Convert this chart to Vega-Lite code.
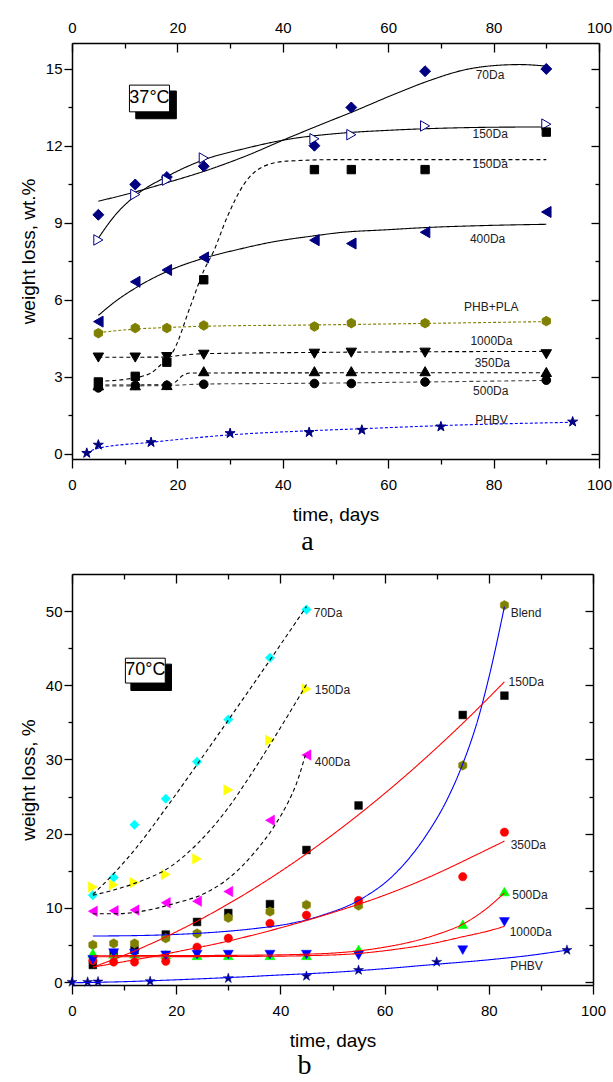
{
  "$schema": "https://vega.github.io/schema/vega-lite/v6.json",
  "padding": {"left": 19, "top": 16, "right": 5, "bottom": 0},
  "spacing": 17,
  "config": {
    "font": "Liberation Sans",
    "view": {"stroke": null},
    "style": {"guide-title": {"fontWeight": "normal"}},
    "axis": {"grid": false, "domainColor": "#000", "domainWidth": 1.5, "tickColor": "#000", "tickWidth": 1.3, "labelColor": "#000", "titleColor": "#000", "labelFontSize": 15, "titleFontSize": 19, "titleFontWeight": "normal", "labelFont": "Liberation Sans", "titleFont": "Liberation Sans", "labelFlush": false, "labelOverlap": false},
    "title": {"font": "Liberation Serif", "fontSize": 28, "fontWeight": "normal", "color": "#000"}
  },
  "resolve": {"scale": {"x": "independent", "y": "independent", "fill": "independent", "stroke": "independent", "shape": "independent", "size": "independent", "strokeDash": "independent"}},
  "datasets": {
    "box37": [
      {"k": "shadow", "x": 12.1, "x2": 19.8, "y": 13.05, "y2": 14.13},
      {"k": "box", "x": 10.9, "x2": 18.5, "y": 13.32, "y2": 14.36}
    ],
    "tag37": [{"t": "37°C", "x": 14.7, "y": 13.84}],
    "fit37": [
      {"s": "70Da", "x": 5, "y": 9.84}, {"s": "70Da", "x": 12, "y": 10.2}, {"s": "70Da", "x": 18, "y": 10.56}, {"s": "70Da", "x": 25, "y": 11.0}, {"s": "70Da", "x": 33, "y": 11.6}, {"s": "70Da", "x": 41, "y": 12.3}, {"s": "70Da", "x": 49, "y": 12.97}, {"s": "70Da", "x": 53, "y": 13.3}, {"s": "70Da", "x": 61.7, "y": 14.05}, {"s": "70Da", "x": 68, "y": 14.55}, {"s": "70Da", "x": 74.4, "y": 14.95}, {"s": "70Da", "x": 80.7, "y": 15.13}, {"s": "70Da", "x": 85, "y": 15.16}, {"s": "70Da", "x": 90, "y": 15.1},
      {"s": "150Da", "x": 5, "y": 8.4}, {"s": "150Da", "x": 8, "y": 9.25}, {"s": "150Da", "x": 12, "y": 10.05}, {"s": "150Da", "x": 18, "y": 10.8}, {"s": "150Da", "x": 25, "y": 11.45}, {"s": "150Da", "x": 33, "y": 11.9}, {"s": "150Da", "x": 41, "y": 12.25}, {"s": "150Da", "x": 50, "y": 12.47}, {"s": "150Da", "x": 60, "y": 12.6}, {"s": "150Da", "x": 70, "y": 12.68}, {"s": "150Da", "x": 80, "y": 12.72}, {"s": "150Da", "x": 90, "y": 12.73},
      {"s": "150DaS", "x": 5, "y": 2.83}, {"s": "150DaS", "x": 10, "y": 2.9}, {"s": "150DaS", "x": 14.8, "y": 3.13}, {"s": "150DaS", "x": 17, "y": 3.5}, {"s": "150DaS", "x": 19.3, "y": 4.03}, {"s": "150DaS", "x": 22.4, "y": 5.71}, {"s": "150DaS", "x": 25, "y": 7.13}, {"s": "150DaS", "x": 26.9, "y": 7.9}, {"s": "150DaS", "x": 29.4, "y": 9.2}, {"s": "150DaS", "x": 32.6, "y": 10.49}, {"s": "150DaS", "x": 36.4, "y": 11.2}, {"s": "150DaS", "x": 40.8, "y": 11.4}, {"s": "150DaS", "x": 51, "y": 11.46}, {"s": "150DaS", "x": 70, "y": 11.46}, {"s": "150DaS", "x": 90, "y": 11.46},
      {"s": "400Da", "x": 5, "y": 5.39}, {"s": "400Da", "x": 8, "y": 5.9}, {"s": "400Da", "x": 12.3, "y": 6.49}, {"s": "400Da", "x": 18, "y": 7.1}, {"s": "400Da", "x": 25, "y": 7.62}, {"s": "400Da", "x": 31.3, "y": 7.95}, {"s": "400Da", "x": 38, "y": 8.25}, {"s": "400Da", "x": 45.9, "y": 8.49}, {"s": "400Da", "x": 51, "y": 8.62}, {"s": "400Da", "x": 60, "y": 8.73}, {"s": "400Da", "x": 66.8, "y": 8.81}, {"s": "400Da", "x": 78, "y": 8.89}, {"s": "400Da", "x": 90, "y": 8.94},
      {"s": "PHB+PLA", "x": 5, "y": 4.72}, {"s": "PHB+PLA", "x": 12, "y": 4.86}, {"s": "PHB+PLA", "x": 18, "y": 4.92}, {"s": "PHB+PLA", "x": 25, "y": 4.97}, {"s": "PHB+PLA", "x": 46, "y": 5.02}, {"s": "PHB+PLA", "x": 67, "y": 5.08}, {"s": "PHB+PLA", "x": 90, "y": 5.15},
      {"s": "1000Da", "x": 5, "y": 3.76}, {"s": "1000Da", "x": 18, "y": 3.77}, {"s": "1000Da", "x": 20, "y": 3.82}, {"s": "1000Da", "x": 25, "y": 3.9}, {"s": "1000Da", "x": 46, "y": 3.95}, {"s": "1000Da", "x": 90, "y": 3.99},
      {"s": "350Da", "x": 5, "y": 2.68}, {"s": "350Da", "x": 18, "y": 2.69}, {"s": "350Da", "x": 19.5, "y": 2.78}, {"s": "350Da", "x": 21, "y": 3.05}, {"s": "350Da", "x": 22.5, "y": 3.15}, {"s": "350Da", "x": 90, "y": 3.16},
      {"s": "500Da", "x": 5, "y": 2.64}, {"s": "500Da", "x": 18, "y": 2.66}, {"s": "500Da", "x": 25, "y": 2.72}, {"s": "500Da", "x": 46, "y": 2.75}, {"s": "500Da", "x": 67, "y": 2.8}, {"s": "500Da", "x": 90, "y": 2.86},
      {"s": "PHBV", "x": 2.8, "y": 0.03}, {"s": "PHBV", "x": 5, "y": 0.22}, {"s": "PHBV", "x": 15, "y": 0.45}, {"s": "PHBV", "x": 30, "y": 0.74}, {"s": "PHBV", "x": 45, "y": 0.9}, {"s": "PHBV", "x": 55, "y": 0.98}, {"s": "PHBV", "x": 70, "y": 1.1}, {"s": "PHBV", "x": 95, "y": 1.23}
    ],
    "pts37": [
      {"s": "70Da", "x": 5, "y": 9.31}, {"s": "70Da", "x": 12, "y": 10.49}, {"s": "70Da", "x": 18, "y": 10.78}, {"s": "70Da", "x": 25, "y": 11.2}, {"s": "70Da", "x": 46, "y": 12.0}, {"s": "70Da", "x": 53, "y": 13.49}, {"s": "70Da", "x": 67, "y": 14.9}, {"s": "70Da", "x": 90, "y": 14.99},
      {"s": "150Da", "x": 5, "y": 8.33}, {"s": "150Da", "x": 12, "y": 10.1}, {"s": "150Da", "x": 18, "y": 10.66}, {"s": "150Da", "x": 25, "y": 11.52}, {"s": "150Da", "x": 46, "y": 12.27}, {"s": "150Da", "x": 53, "y": 12.43}, {"s": "150Da", "x": 67, "y": 12.77}, {"s": "150Da", "x": 90, "y": 12.84},
      {"s": "150DaS", "x": 5, "y": 2.8}, {"s": "150DaS", "x": 12, "y": 3.02}, {"s": "150DaS", "x": 18, "y": 3.57}, {"s": "150DaS", "x": 25, "y": 6.78}, {"s": "150DaS", "x": 46, "y": 11.07}, {"s": "150DaS", "x": 53, "y": 11.07}, {"s": "150DaS", "x": 67, "y": 11.07}, {"s": "150DaS", "x": 90, "y": 12.53},
      {"s": "400Da", "x": 5, "y": 5.15}, {"s": "400Da", "x": 12, "y": 6.7}, {"s": "400Da", "x": 18, "y": 7.16}, {"s": "400Da", "x": 25, "y": 7.65}, {"s": "400Da", "x": 46, "y": 8.32}, {"s": "400Da", "x": 53, "y": 8.19}, {"s": "400Da", "x": 67, "y": 8.63}, {"s": "400Da", "x": 90, "y": 9.42},
      {"s": "PHB+PLA", "x": 5, "y": 4.7}, {"s": "PHB+PLA", "x": 12, "y": 4.9}, {"s": "PHB+PLA", "x": 18, "y": 4.9}, {"s": "PHB+PLA", "x": 25, "y": 5.0}, {"s": "PHB+PLA", "x": 46, "y": 4.96}, {"s": "PHB+PLA", "x": 53, "y": 5.09}, {"s": "PHB+PLA", "x": 67, "y": 5.09}, {"s": "PHB+PLA", "x": 90, "y": 5.17},
      {"s": "1000Da", "x": 5, "y": 3.75}, {"s": "1000Da", "x": 12, "y": 3.75}, {"s": "1000Da", "x": 18, "y": 3.77}, {"s": "1000Da", "x": 25, "y": 3.86}, {"s": "1000Da", "x": 46, "y": 3.9}, {"s": "1000Da", "x": 53, "y": 3.94}, {"s": "1000Da", "x": 67, "y": 3.94}, {"s": "1000Da", "x": 90, "y": 3.88},
      {"s": "350Da", "x": 5, "y": 2.67}, {"s": "350Da", "x": 12, "y": 2.67}, {"s": "350Da", "x": 18, "y": 2.68}, {"s": "350Da", "x": 25, "y": 3.22}, {"s": "350Da", "x": 46, "y": 3.22}, {"s": "350Da", "x": 53, "y": 3.22}, {"s": "350Da", "x": 67, "y": 3.22}, {"s": "350Da", "x": 90, "y": 3.19},
      {"s": "500Da", "x": 5, "y": 2.57}, {"s": "500Da", "x": 12, "y": 2.67}, {"s": "500Da", "x": 18, "y": 2.67}, {"s": "500Da", "x": 25, "y": 2.71}, {"s": "500Da", "x": 46, "y": 2.74}, {"s": "500Da", "x": 53, "y": 2.74}, {"s": "500Da", "x": 67, "y": 2.8}, {"s": "500Da", "x": 90, "y": 2.87},
      {"s": "PHBV", "x": 2.8, "y": 0.03}, {"s": "PHBV", "x": 5, "y": 0.35}, {"s": "PHBV", "x": 15, "y": 0.45}, {"s": "PHBV", "x": 30, "y": 0.8}, {"s": "PHBV", "x": 45, "y": 0.84}, {"s": "PHBV", "x": 55, "y": 0.93}, {"s": "PHBV", "x": 70, "y": 1.06}, {"s": "PHBV", "x": 95, "y": 1.25}
    ],
    "lab37": [
      {"t": "70Da", "x": 76.6, "y": 14.74}, {"t": "150Da", "x": 76.0, "y": 12.47}, {"t": "150Da", "x": 76.0, "y": 11.3}, {"t": "400Da", "x": 75.5, "y": 8.36}, {"t": "PHB+PLA", "x": 74.4, "y": 5.71}, {"t": "1000Da", "x": 75.6, "y": 4.38}, {"t": "350Da", "x": 76.4, "y": 3.53}, {"t": "500Da", "x": 76.1, "y": 2.43}, {"t": "PHBV", "x": 76.5, "y": 1.33}
    ],
    "box70": [
      {"k": "shadow", "x": 11.3, "x2": 19.1, "y": 39.3, "y2": 42.85},
      {"k": "box", "x": 10.25, "x2": 17.9, "y": 40.3, "y2": 43.65}
    ],
    "tag70": [{"t": "70°C", "x": 14.1, "y": 42.0}],
    "fit70": [
      {"s": "70Da", "x": 4, "y": 11.8}, {"s": "70Da", "x": 8, "y": 14.6}, {"s": "70Da", "x": 12, "y": 17.8}, {"s": "70Da", "x": 18, "y": 23.4}, {"s": "70Da", "x": 24, "y": 29.3}, {"s": "70Da", "x": 30, "y": 35.3}, {"s": "70Da", "x": 38, "y": 43.4}, {"s": "70Da", "x": 45, "y": 50.6},
      {"s": "150DaY", "x": 4, "y": 11.7}, {"s": "150DaY", "x": 8, "y": 12.4}, {"s": "150DaY", "x": 12, "y": 13.3}, {"s": "150DaY", "x": 19, "y": 15.6}, {"s": "150DaY", "x": 24, "y": 18.6}, {"s": "150DaY", "x": 30, "y": 23.5}, {"s": "150DaY", "x": 34, "y": 27.6}, {"s": "150DaY", "x": 38, "y": 32.0}, {"s": "150DaY", "x": 41.5, "y": 36.0}, {"s": "150DaY", "x": 45, "y": 40.1},
      {"s": "400Da", "x": 4, "y": 9.2}, {"s": "400Da", "x": 8, "y": 9.2}, {"s": "400Da", "x": 12.2, "y": 9.4}, {"s": "400Da", "x": 16, "y": 9.9}, {"s": "400Da", "x": 19.2, "y": 10.5}, {"s": "400Da", "x": 25.6, "y": 12.0}, {"s": "400Da", "x": 30.1, "y": 14.0}, {"s": "400Da", "x": 35.2, "y": 17.6}, {"s": "400Da", "x": 39, "y": 21.2}, {"s": "400Da", "x": 41.6, "y": 24.4}, {"s": "400Da", "x": 43, "y": 26.6}, {"s": "400Da", "x": 44.8, "y": 30.6},
      {"s": "Blend", "x": 4, "y": 6.2}, {"s": "Blend", "x": 15, "y": 6.3}, {"s": "Blend", "x": 25, "y": 6.6}, {"s": "Blend", "x": 35, "y": 7.2}, {"s": "Blend", "x": 42, "y": 7.9}, {"s": "Blend", "x": 48, "y": 9.0}, {"s": "Blend", "x": 55, "y": 11.0}, {"s": "Blend", "x": 62, "y": 14.6}, {"s": "Blend", "x": 68, "y": 19.8}, {"s": "Blend", "x": 72, "y": 24.6}, {"s": "Blend", "x": 75, "y": 29.4}, {"s": "Blend", "x": 78, "y": 35.6}, {"s": "Blend", "x": 80, "y": 41.0}, {"s": "Blend", "x": 83, "y": 50.6},
      {"s": "150Da", "x": 4, "y": 2.0}, {"s": "150Da", "x": 10, "y": 3.61}, {"s": "150Da", "x": 16, "y": 5.43}, {"s": "150Da", "x": 22, "y": 7.47}, {"s": "150Da", "x": 28, "y": 9.73}, {"s": "150Da", "x": 34, "y": 12.2}, {"s": "150Da", "x": 40, "y": 14.89}, {"s": "150Da", "x": 46, "y": 17.79}, {"s": "150Da", "x": 52, "y": 20.91}, {"s": "150Da", "x": 58, "y": 24.25}, {"s": "150Da", "x": 64, "y": 27.8}, {"s": "150Da", "x": 70, "y": 31.57}, {"s": "150Da", "x": 76, "y": 35.55}, {"s": "150Da", "x": 83, "y": 40.47},
      {"s": "350Da", "x": 4, "y": 2.0}, {"s": "350Da", "x": 10, "y": 2.75}, {"s": "350Da", "x": 16, "y": 3.5}, {"s": "350Da", "x": 22, "y": 4.35}, {"s": "350Da", "x": 28, "y": 5.2}, {"s": "350Da", "x": 34, "y": 6.2}, {"s": "350Da", "x": 40, "y": 7.3}, {"s": "350Da", "x": 46, "y": 8.5}, {"s": "350Da", "x": 52, "y": 9.8}, {"s": "350Da", "x": 58, "y": 11.2}, {"s": "350Da", "x": 64, "y": 12.8}, {"s": "350Da", "x": 70, "y": 14.6}, {"s": "350Da", "x": 76, "y": 16.6}, {"s": "350Da", "x": 83, "y": 19.0},
      {"s": "500Da", "x": 4, "y": 3.55}, {"s": "500Da", "x": 15, "y": 3.56}, {"s": "500Da", "x": 25, "y": 3.58}, {"s": "500Da", "x": 35, "y": 3.62}, {"s": "500Da", "x": 45, "y": 3.75}, {"s": "500Da", "x": 50, "y": 3.9}, {"s": "500Da", "x": 55, "y": 4.2}, {"s": "500Da", "x": 60, "y": 4.7}, {"s": "500Da", "x": 65, "y": 5.4}, {"s": "500Da", "x": 70, "y": 6.4}, {"s": "500Da", "x": 75, "y": 7.8}, {"s": "500Da", "x": 79, "y": 9.6}, {"s": "500Da", "x": 83, "y": 12.0},
      {"s": "1000Da", "x": 4, "y": 3.4}, {"s": "1000Da", "x": 20, "y": 3.42}, {"s": "1000Da", "x": 35, "y": 3.46}, {"s": "1000Da", "x": 45, "y": 3.55}, {"s": "1000Da", "x": 55, "y": 3.85}, {"s": "1000Da", "x": 62, "y": 4.4}, {"s": "1000Da", "x": 68.5, "y": 5.1}, {"s": "1000Da", "x": 75, "y": 6.1}, {"s": "1000Da", "x": 80, "y": 6.9}, {"s": "1000Da", "x": 83, "y": 7.5},
      {"s": "PHBV", "x": 0, "y": -0.1}, {"s": "PHBV", "x": 10, "y": 0.05}, {"s": "PHBV", "x": 20, "y": 0.3}, {"s": "PHBV", "x": 30, "y": 0.6}, {"s": "PHBV", "x": 40, "y": 0.95}, {"s": "PHBV", "x": 50, "y": 1.3}, {"s": "PHBV", "x": 60, "y": 1.8}, {"s": "PHBV", "x": 70, "y": 2.4}, {"s": "PHBV", "x": 80, "y": 3.0}, {"s": "PHBV", "x": 88, "y": 3.6}, {"s": "PHBV", "x": 95, "y": 4.3}
    ],
    "pts70": [
      {"s": "150Da", "x": 4, "y": 2.3}, {"s": "150Da", "x": 8, "y": 3.8}, {"s": "150Da", "x": 12, "y": 4.3}, {"s": "150Da", "x": 18, "y": 6.4}, {"s": "150Da", "x": 24, "y": 8.1}, {"s": "150Da", "x": 30, "y": 9.3}, {"s": "150Da", "x": 38, "y": 10.5}, {"s": "150Da", "x": 45, "y": 17.8}, {"s": "150Da", "x": 55, "y": 23.8}, {"s": "150Da", "x": 75, "y": 36.0}, {"s": "150Da", "x": 83, "y": 38.6},
      {"s": "Blend", "x": 4, "y": 5.0}, {"s": "Blend", "x": 8, "y": 5.2}, {"s": "Blend", "x": 12, "y": 5.2}, {"s": "Blend", "x": 18, "y": 5.9}, {"s": "Blend", "x": 24, "y": 6.55}, {"s": "Blend", "x": 30, "y": 8.65}, {"s": "Blend", "x": 38, "y": 9.5}, {"s": "Blend", "x": 45, "y": 10.4}, {"s": "Blend", "x": 55, "y": 10.3}, {"s": "Blend", "x": 75, "y": 29.2}, {"s": "Blend", "x": 83, "y": 50.8},
      {"s": "500Da", "x": 4, "y": 3.9}, {"s": "500Da", "x": 8, "y": 3.8}, {"s": "500Da", "x": 12, "y": 3.8}, {"s": "500Da", "x": 18, "y": 3.7}, {"s": "500Da", "x": 24, "y": 3.6}, {"s": "500Da", "x": 30, "y": 3.6}, {"s": "500Da", "x": 38, "y": 3.6}, {"s": "500Da", "x": 45, "y": 3.6}, {"s": "500Da", "x": 55, "y": 4.4}, {"s": "500Da", "x": 75, "y": 7.8}, {"s": "500Da", "x": 83, "y": 12.2},
      {"s": "350Da", "x": 4, "y": 2.9}, {"s": "350Da", "x": 8, "y": 2.7}, {"s": "350Da", "x": 12, "y": 2.7}, {"s": "350Da", "x": 18, "y": 2.8}, {"s": "350Da", "x": 24, "y": 4.7}, {"s": "350Da", "x": 30, "y": 5.9}, {"s": "350Da", "x": 38, "y": 7.9}, {"s": "350Da", "x": 45, "y": 9.0}, {"s": "350Da", "x": 55, "y": 11.0}, {"s": "350Da", "x": 75, "y": 14.2}, {"s": "350Da", "x": 83, "y": 20.2},
      {"s": "1000Da", "x": 4, "y": 3.0}, {"s": "1000Da", "x": 8, "y": 3.9}, {"s": "1000Da", "x": 12, "y": 3.85}, {"s": "1000Da", "x": 18, "y": 3.6}, {"s": "1000Da", "x": 24, "y": 3.7}, {"s": "1000Da", "x": 30, "y": 3.7}, {"s": "1000Da", "x": 38, "y": 3.7}, {"s": "1000Da", "x": 45, "y": 3.7}, {"s": "1000Da", "x": 55, "y": 3.6}, {"s": "1000Da", "x": 75, "y": 4.3}, {"s": "1000Da", "x": 83, "y": 8.1},
      {"s": "70Da", "x": 4, "y": 11.7}, {"s": "70Da", "x": 8, "y": 14.1}, {"s": "70Da", "x": 12, "y": 21.2}, {"s": "70Da", "x": 18, "y": 24.7}, {"s": "70Da", "x": 24, "y": 29.7}, {"s": "70Da", "x": 30, "y": 35.4}, {"s": "70Da", "x": 38, "y": 43.7}, {"s": "70Da", "x": 45, "y": 50.2},
      {"s": "150DaY", "x": 4, "y": 12.8}, {"s": "150DaY", "x": 8, "y": 13.1}, {"s": "150DaY", "x": 12, "y": 13.4}, {"s": "150DaY", "x": 18, "y": 14.5}, {"s": "150DaY", "x": 24, "y": 16.6}, {"s": "150DaY", "x": 30, "y": 25.9}, {"s": "150DaY", "x": 38, "y": 32.6}, {"s": "150DaY", "x": 45, "y": 39.5},
      {"s": "400Da", "x": 4, "y": 9.55}, {"s": "400Da", "x": 8, "y": 9.6}, {"s": "400Da", "x": 12, "y": 9.7}, {"s": "400Da", "x": 18, "y": 10.7}, {"s": "400Da", "x": 24, "y": 10.9}, {"s": "400Da", "x": 30, "y": 12.2}, {"s": "400Da", "x": 38, "y": 21.8}, {"s": "400Da", "x": 45, "y": 30.6},
      {"s": "PHBV", "x": 0, "y": 0.0}, {"s": "PHBV", "x": 3, "y": 0.0}, {"s": "PHBV", "x": 5, "y": 0.05}, {"s": "PHBV", "x": 15, "y": 0.1}, {"s": "PHBV", "x": 30, "y": 0.5}, {"s": "PHBV", "x": 45, "y": 0.8}, {"s": "PHBV", "x": 55, "y": 1.6}, {"s": "PHBV", "x": 70, "y": 2.7}, {"s": "PHBV", "x": 95, "y": 4.3}
    ],
    "lab70": [
      {"t": "70Da", "x": 46.4, "y": 49.8}, {"t": "150Da", "x": 46.6, "y": 39.3}, {"t": "400Da", "x": 46.6, "y": 29.7}, {"t": "Blend", "x": 84.2, "y": 49.8}, {"t": "150Da", "x": 83.8, "y": 40.5}, {"t": "350Da", "x": 84.2, "y": 18.5}, {"t": "500Da", "x": 84.5, "y": 11.7}, {"t": "1000Da", "x": 84.0, "y": 6.7}, {"t": "PHBV", "x": 84.1, "y": 2.2}
    ]
  },
  "vconcat": [
    {
      "width": 527,
      "height": 416,
      "title": {"text": "a", "orient": "bottom", "dx": -28, "offset": 3},
      "resolve": {"axis": {"x": "independent", "y": "independent"}, "scale": {"fill": "independent", "stroke": "independent"}},
      "layer": [
        {
          "data": {"name": "box37"},
          "mark": {"type": "rect", "strokeWidth": 1},
          "encoding": {
            "x": {"field": "x", "type": "quantitative", "scale": {"domain": [0, 100], "nice": false, "zero": false}, "axis": null},
            "x2": {"field": "x2"},
            "y": {"field": "y", "type": "quantitative", "scale": {"domain": [-0.2, 16], "nice": false, "zero": false}, "axis": null},
            "y2": {"field": "y2"},
            "fill": {"field": "k", "type": "nominal", "scale": {"domain": ["shadow", "box"], "range": ["#000000", "#ffffff"]}, "legend": null},
            "stroke": {"field": "k", "type": "nominal", "scale": {"domain": ["shadow", "box"], "range": ["#000000", "#000000"]}, "legend": null}
          }
        },
        {
          "data": {"name": "fit37"},
          "mark": {"type": "line", "interpolate": "monotone", "strokeWidth": 1.1},
          "encoding": {
            "x": {"field": "x", "type": "quantitative", "scale": {"domain": [0, 100], "nice": false, "zero": false},
              "axis": {"orient": "bottom", "values": [0, 10, 20, 30, 40, 50, 60, 70, 80, 90, 100], "labelExpr": "datum.value % 20 === 0 ? datum.label : ''", "tickSize": {"condition": {"test": "datum.value % 20 === 0", "value": 9}, "value": 5}, "labelPadding": 9.5, "title": "time, days", "titlePadding": 13.4, "titleFontWeight": "normal"}},
            "y": {"field": "y", "type": "quantitative", "scale": {"domain": [-0.2, 16], "nice": false, "zero": false},
              "axis": {"orient": "left", "values": [0, 1.5, 3, 4.5, 6, 7.5, 9, 10.5, 12, 13.5, 15], "labelExpr": "datum.value % 3 === 0 ? datum.label : ''", "tickSize": {"condition": {"test": "datum.value % 3 === 0", "value": 8}, "value": 4}, "labelPadding": 2, "title": "weight loss, wt.%", "titlePadding": 7, "titleFontWeight": "normal"}},
            "stroke": {"field": "s", "type": "nominal", "legend": null, "scale": {"domain": ["70Da", "150Da", "150DaS", "400Da", "PHB+PLA", "1000Da", "350Da", "500Da", "PHBV"], "range": ["#000000", "#000000", "#000000", "#000000", "#808000", "#000000", "#000000", "#444444", "#0000ff"]}},
            "strokeDash": {"field": "s", "type": "nominal", "legend": null, "scale": {"domain": ["70Da", "150Da", "150DaS", "400Da", "PHB+PLA", "1000Da", "350Da", "500Da", "PHBV"], "range": [[1, 0], [1, 0], [4, 3], [1, 0], [3, 2], [4, 3], [4, 3], [4, 3], [3, 2]]}}
          }
        },
        {
          "data": {"name": "pts37"},
          "mark": {"type": "point", "filled": true, "strokeWidth": 1, "opacity": 1},
          "encoding": {
            "x": {"field": "x", "type": "quantitative", "scale": {"domain": [0, 100], "nice": false, "zero": false},
              "axis": {"orient": "top", "values": [0, 10, 20, 30, 40, 50, 60, 70, 80, 90, 100], "labelExpr": "datum.value % 20 === 0 ? datum.label : ''", "tickSize": {"condition": {"test": "datum.value % 20 === 0", "value": -9}, "value": -5}, "labelPadding": 16.8, "title": null}},
            "y": {"field": "y", "type": "quantitative", "scale": {"domain": [-0.2, 16], "nice": false, "zero": false},
              "axis": {"orient": "right", "values": [0, 1.5, 3, 4.5, 6, 7.5, 9, 10.5, 12, 13.5, 15], "labels": false, "tickSize": {"condition": {"test": "datum.value % 3 === 0", "value": -8}, "value": -4}, "title": null}},
            "shape": {"field": "s", "type": "nominal", "legend": null, "scale": {"domain": ["70Da", "150Da", "150DaS", "400Da", "PHB+PLA", "1000Da", "350Da", "500Da", "PHBV"], "range": ["diamond", "triangle-right", "square", "triangle-left", "M0,-1L0.866,-0.5L0.866,0.5L0,1L-0.866,0.5L-0.866,-0.5Z", "triangle-down", "triangle-up", "circle", "M0,-1L0.2245,-0.309L0.9511,-0.309L0.3633,0.118L0.5878,0.809L0,0.382L-0.5878,0.809L-0.3633,0.118L-0.9511,-0.309L-0.2245,-0.309Z"]}},
            "fill": {"field": "s", "type": "nominal", "legend": null, "scale": {"domain": ["70Da", "150Da", "150DaS", "400Da", "PHB+PLA", "1000Da", "350Da", "500Da", "PHBV"], "range": ["#000080", "#ffffff", "#000000", "#000080", "#808000", "#000000", "#000000", "#000000", "#000080"]}},
            "stroke": {"field": "s", "type": "nominal", "legend": null, "scale": {"domain": ["70Da", "150Da", "150DaS", "400Da", "PHB+PLA", "1000Da", "350Da", "500Da", "PHBV"], "range": ["#000080", "#000080", "#000000", "#000080", "#808000", "#000000", "#000000", "#000000", "#000080"]}},
            "size": {"field": "s", "type": "nominal", "legend": null, "scale": {"type": "ordinal", "domain": ["70Da", "150Da", "150DaS", "400Da", "PHB+PLA", "1000Da", "350Da", "500Da", "PHBV"], "range": [120, 110, 70, 120, 90, 110, 110, 75, 110]}}
          }
        },
        {
          "data": {"name": "lab37"},
          "mark": {"type": "text", "align": "left", "baseline": "middle", "fontSize": 12, "color": "#222222"},
          "encoding": {
            "x": {"field": "x", "type": "quantitative", "scale": {"domain": [0, 100], "nice": false, "zero": false}, "axis": null},
            "y": {"field": "y", "type": "quantitative", "scale": {"domain": [-0.2, 16], "nice": false, "zero": false}, "axis": null},
            "text": {"field": "t"}
          }
        },
        {
          "data": {"name": "tag37"},
          "mark": {"type": "text", "align": "center", "baseline": "middle", "fontSize": 18, "color": "#000000"},
          "encoding": {
            "x": {"field": "x", "type": "quantitative", "scale": {"domain": [0, 100], "nice": false, "zero": false}, "axis": null},
            "y": {"field": "y", "type": "quantitative", "scale": {"domain": [-0.2, 16], "nice": false, "zero": false}, "axis": null},
            "text": {"field": "t"}
          }
        }
      ]
    },
    {
      "width": 521,
      "height": 411,
      "title": {"text": "b", "orient": "bottom", "dx": -28, "offset": 1},
      "resolve": {"axis": {"x": "independent", "y": "independent"}, "scale": {"fill": "independent", "stroke": "independent"}},
      "layer": [
        {
          "data": {"name": "box70"},
          "mark": {"type": "rect", "strokeWidth": 1},
          "encoding": {
            "x": {"field": "x", "type": "quantitative", "scale": {"domain": [0, 100], "nice": false, "zero": false}, "axis": null},
            "x2": {"field": "x2"},
            "y": {"field": "y", "type": "quantitative", "scale": {"domain": [-0.4, 55], "nice": false, "zero": false}, "axis": null},
            "y2": {"field": "y2"},
            "fill": {"field": "k", "type": "nominal", "scale": {"domain": ["shadow", "box"], "range": ["#000000", "#ffffff"]}, "legend": null},
            "stroke": {"field": "k", "type": "nominal", "scale": {"domain": ["shadow", "box"], "range": ["#000000", "#000000"]}, "legend": null}
          }
        },
        {
          "data": {"name": "pts70"},
          "mark": {"type": "point", "filled": true, "strokeWidth": 0.5, "opacity": 1},
          "encoding": {
            "x": {"field": "x", "type": "quantitative", "scale": {"domain": [0, 100], "nice": false, "zero": false},
              "axis": {"orient": "top", "values": [0, 10, 20, 30, 40, 50, 60, 70, 80, 90, 100], "labels": false, "tickSize": {"condition": {"test": "datum.value % 20 === 0", "value": -9}, "value": -5}, "title": null}},
            "y": {"field": "y", "type": "quantitative", "scale": {"domain": [-0.4, 55], "nice": false, "zero": false},
              "axis": {"orient": "right", "values": [0, 5, 10, 15, 20, 25, 30, 35, 40, 45, 50], "labels": false, "tickSize": {"condition": {"test": "datum.value % 10 === 0", "value": -8}, "value": -4}, "title": null}},
            "shape": {"field": "s", "type": "nominal", "legend": null, "scale": {"domain": ["70Da", "150DaY", "400Da", "Blend", "150Da", "350Da", "500Da", "1000Da", "PHBV"], "range": ["diamond", "triangle-right", "triangle-left", "M0,-1L0.866,-0.5L0.866,0.5L0,1L-0.866,0.5L-0.866,-0.5Z", "square", "circle", "triangle-up", "triangle-down", "M0,-1L0.2245,-0.309L0.9511,-0.309L0.3633,0.118L0.5878,0.809L0,0.382L-0.5878,0.809L-0.3633,0.118L-0.9511,-0.309L-0.2245,-0.309Z"]}},
            "fill": {"field": "s", "type": "nominal", "legend": null, "scale": {"domain": ["70Da", "150DaY", "400Da", "Blend", "150Da", "350Da", "500Da", "1000Da", "PHBV"], "range": ["#00ffff", "#ffff00", "#ff00ff", "#808000", "#000000", "#ff0000", "#00ff00", "#0000ff", "#000080"]}},
            "stroke": {"field": "s", "type": "nominal", "legend": null, "scale": {"domain": ["70Da", "150DaY", "400Da", "Blend", "150Da", "350Da", "500Da", "1000Da", "PHBV"], "range": ["#00ffff", "#ffff00", "#ff00ff", "#808000", "#000000", "#ff0000", "#00ff00", "#0000ff", "#000080"]}},
            "size": {"field": "s", "type": "nominal", "legend": null, "scale": {"type": "ordinal", "domain": ["70Da", "150DaY", "400Da", "Blend", "150Da", "350Da", "500Da", "1000Da", "PHBV"], "range": [90, 110, 110, 90, 60, 70, 100, 100, 110]}}
          }
        },
        {
          "data": {"name": "fit70"},
          "mark": {"type": "line", "interpolate": "monotone", "strokeWidth": 1.1},
          "encoding": {
            "x": {"field": "x", "type": "quantitative", "scale": {"domain": [0, 100], "nice": false, "zero": false},
              "axis": {"orient": "bottom", "values": [0, 10, 20, 30, 40, 50, 60, 70, 80, 90, 100], "labelExpr": "datum.value % 20 === 0 ? datum.label : ''", "tickSize": {"condition": {"test": "datum.value % 20 === 0", "value": 9}, "value": 5}, "labelPadding": 9.5, "title": "time, days", "titlePadding": 13.4, "titleFontWeight": "normal"}},
            "y": {"field": "y", "type": "quantitative", "scale": {"domain": [-0.4, 55], "nice": false, "zero": false},
              "axis": {"orient": "left", "values": [0, 5, 10, 15, 20, 25, 30, 35, 40, 45, 50], "labelExpr": "datum.value % 10 === 0 ? datum.label : ''", "tickSize": {"condition": {"test": "datum.value % 10 === 0", "value": 8}, "value": 4}, "labelPadding": 2, "title": "weight loss, %", "titlePadding": 7, "titleFontWeight": "normal"}},
            "stroke": {"field": "s", "type": "nominal", "legend": null, "scale": {"domain": ["70Da", "150DaY", "400Da", "Blend", "150Da", "350Da", "500Da", "1000Da", "PHBV"], "range": ["#000000", "#000000", "#000000", "#0000ff", "#ff0000", "#ff0000", "#ff0000", "#ff0000", "#0000ff"]}},
            "strokeDash": {"field": "s", "type": "nominal", "legend": null, "scale": {"domain": ["70Da", "150DaY", "400Da", "Blend", "150Da", "350Da", "500Da", "1000Da", "PHBV"], "range": [[4, 3], [4, 3], [4, 3], [1, 0], [1, 0], [1, 0], [1, 0], [1, 0], [1, 0]]}}
          }
        },
        {
          "data": {"name": "lab70"},
          "mark": {"type": "text", "align": "left", "baseline": "middle", "fontSize": 12, "color": "#222222"},
          "encoding": {
            "x": {"field": "x", "type": "quantitative", "scale": {"domain": [0, 100], "nice": false, "zero": false}, "axis": null},
            "y": {"field": "y", "type": "quantitative", "scale": {"domain": [-0.4, 55], "nice": false, "zero": false}, "axis": null},
            "text": {"field": "t"}
          }
        },
        {
          "data": {"name": "tag70"},
          "mark": {"type": "text", "align": "center", "baseline": "middle", "fontSize": 18, "color": "#000000"},
          "encoding": {
            "x": {"field": "x", "type": "quantitative", "scale": {"domain": [0, 100], "nice": false, "zero": false}, "axis": null},
            "y": {"field": "y", "type": "quantitative", "scale": {"domain": [-0.4, 55], "nice": false, "zero": false}, "axis": null},
            "text": {"field": "t"}
          }
        }
      ]
    }
  ]
}
